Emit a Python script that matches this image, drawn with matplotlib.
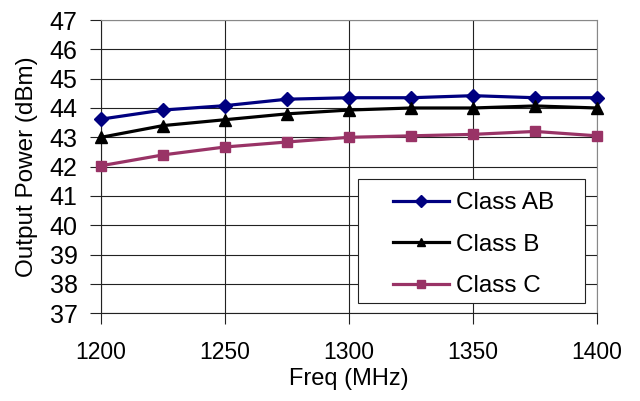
import matplotlib
matplotlib.use("Agg")
import matplotlib.pyplot as plt
from matplotlib.patches import Rectangle

freq = [1200, 1225, 1250, 1275, 1300, 1325, 1350, 1375, 1400]
class_ab = [43.62, 43.93, 44.08, 44.3, 44.35, 44.35, 44.42, 44.35, 44.35]
class_b = [43.0, 43.4, 43.6, 43.8, 43.93, 44.0, 44.0, 44.07, 44.0]
class_c = [42.03, 42.4, 42.67, 42.84, 43.0, 43.05, 43.1, 43.2, 43.05]
xticks = [1200, 1250, 1300, 1350, 1400]
yticks = list(range(37, 48))

plt.rcParams['font.family'] = ['Liberation Sans', 'DejaVu Sans']

fig = plt.figure(figsize=(6.4, 4.01), dpi=100)
ax = fig.add_axes([0.158, 0.219, 0.775, 0.731])

ax.plot(freq, class_ab, color='#000080', lw=2.3, marker='D', ms=7, label='Class AB', clip_on=False, zorder=5)
ax.plot(freq, class_b, color='#000000', lw=2.3, marker='^', ms=8, label='Class B', clip_on=False, zorder=5)
ax.plot(freq, class_c, color='#993366', lw=2.3, marker='s', ms=7, label='Class C', clip_on=False, zorder=5)

ax.set_xlim(1200, 1400)
ax.set_ylim(37, 47)
ax.set_xticks(xticks)
ax.set_yticks(yticks)
ax.grid(True, color='#222222', lw=0.8)
ax.set_axisbelow(True)
for s in ['top', 'right']:
    ax.spines[s].set_color('#888888')
for s in ['left', 'bottom']:
    ax.spines[s].set_color('#222222')
ax.tick_params(axis='both', direction='out', length=8, width=0.8, color='#222222')
ax.tick_params(axis='x', pad=12, labelsize=16.5)
ax.tick_params(axis='y', pad=9, labelsize=18)
ax.set_xlabel('Freq (MHz)', fontsize=17, labelpad=3)
ax.set_ylabel('Output Power (dBm)', fontsize=17.5, labelpad=8)

# legend frame
ax.add_patch(Rectangle((0.518, 0.034), 0.458, 0.423, transform=ax.transAxes,
                       facecolor='white', edgecolor='#222222', lw=0.8, zorder=6))
leg = ax.legend(loc='upper left', bbox_to_anchor=(0.588, 0.412), fontsize=17.5,
                frameon=False, handlelength=2.3, handletextpad=0.3,
                labelspacing=0.8, borderpad=0, borderaxespad=0)
leg.set_zorder(7)
for h in leg.legend_handles:
    h.set_markersize(6)

fig.savefig('out.png', dpi=100)
